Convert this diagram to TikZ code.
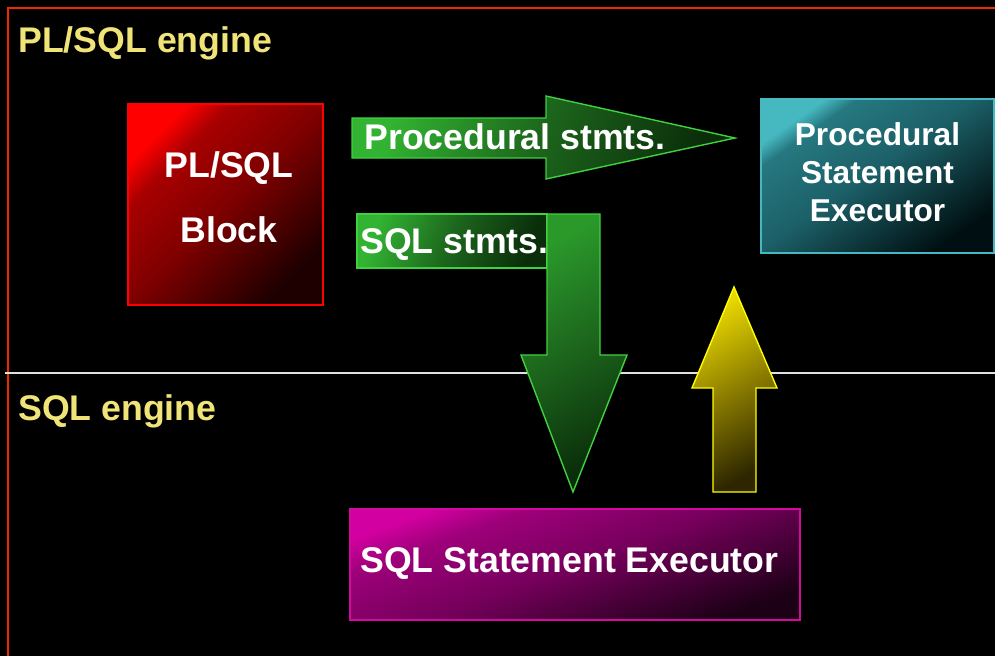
\documentclass[tikz,border=0pt]{standalone}
\usepackage{fontspec}
\setmainfont{Liberation Sans}
\usepackage{tikz}
\usetikzlibrary{positioning}

\definecolor{framered}{RGB}{240,40,0}
\definecolor{hdryellow}{RGB}{240,228,120}
\definecolor{blockred}{RGB}{255,0,0}
\definecolor{blockhi}{RGB}{168,0,0}
\definecolor{blockmid}{RGB}{128,0,0}
\definecolor{blockdark}{RGB}{30,0,0}
\definecolor{tealedge}{RGB}{70,184,192}
\definecolor{tealhi}{RGB}{38,120,128}
\definecolor{tealmid}{RGB}{28,96,104}
\definecolor{tealdark}{RGB}{0,16,18}
\definecolor{grnedge}{RGB}{64,208,64}
\definecolor{grnlight}{RGB}{50,180,50}
\definecolor{grnmid}{RGB}{28,100,28}
\definecolor{grndark}{RGB}{10,45,10}
\definecolor{yeledge}{RGB}{255,255,0}
\definecolor{yellight}{RGB}{232,216,0}
\definecolor{yelmid}{RGB}{140,125,0}
\definecolor{yeldark}{RGB}{45,38,0}
\definecolor{magedge}{RGB}{210,10,160}
\definecolor{maglight}{RGB}{210,0,160}
\definecolor{maghi}{RGB}{158,0,122}
\definecolor{magmid}{RGB}{118,0,92}
\definecolor{magdark}{RGB}{28,0,22}

% shadings with a small bright corner
\pgfdeclareverticalshading{redbox}{100bp}{color(0bp)=(blockdark); color(25bp)=(blockdark);
  color(50bp)=(blockmid); color(67bp)=(blockhi); color(75bp)=(blockred); color(100bp)=(blockred)}
\pgfdeclareverticalshading{tealbox}{100bp}{color(0bp)=(tealdark); color(25bp)=(tealdark);
  color(52bp)=(tealmid); color(70bp)=(tealhi); color(75bp)=(tealedge); color(100bp)=(tealedge)}
\pgfdeclareverticalshading{magbox}{100bp}{color(0bp)=(magdark); color(25bp)=(magdark);
  color(50bp)=(magmid); color(67bp)=(maghi); color(75bp)=(maglight); color(100bp)=(maglight)}

\begin{document}
\begin{tikzpicture}[
    x=0.02cm, y=-0.02cm,                                  % one unit is one pixel
    box/.style={draw, line width=0.8pt, inner sep=0pt},   % Style for the coloured boxes
    bigarrow/.style={draw, line width=0.8pt},             % Style for the block arrows
    txt/.style={text=white, inner sep=0pt,
        font=\bfseries\fontsize{20.3}{24}\selectfont},    % White labels
    hdr/.style={txt, text=hdryellow}                      % Engine titles
    ]

    % Background and frame
    \useasboundingbox (0,0) rectangle (995,656);
    \fill[black] (0,0) rectangle (995,656);
    \draw[framered, line width=1pt] (8,656) -- (8,8) -- (995,8);
    \draw[white!88!black, line width=0.8pt] (5,373) -- (995,373);

    % Engine titles
    \node[hdr, anchor=base west] (plsqleng) at (18,52) {PL/SQL engine};
    \node[hdr, anchor=base west] (sqleng) at (18,420) {SQL engine};

    % PL/SQL block
    \node[box, draw=blockred, shade, shading=redbox, shading angle=45,
          minimum width=3.9cm, minimum height=4.02cm] (block) at (225.5,204.5) {};
    \node[txt, align=center, font=\bfseries\fontsize{20.3}{36.8}\selectfont]
          (blocktxt) at (229,197) {PL/SQL\\Block};

    % Procedural statement executor
    \node[box, draw=tealedge, shade, shading=tealbox, shading angle=35,
          minimum width=4.66cm, minimum height=3.08cm] (pse) at (877.5,176) {};
    \node[txt, align=center, font=\bfseries\fontsize{18}{21.8}\selectfont]
          (psetxt) at (877.5,172) {Procedural\\Statement\\Executor};

    % Procedural stmts. arrow
    \draw[bigarrow, draw=grnedge, top color=grnlight, bottom color=grndark,
          middle color=grnmid, shading angle=70]
        (352,118) -- (546,118) -- (546,96) -- (735,138) -- (546,179)
        -- (546,158) -- (352,158) -- cycle;
    \node[txt, anchor=base west] (procstmts) at (364,149) {Procedural stmts.};

    % SQL stmts. box and arrow down
    \node[box, draw=grnedge, top color=grnlight, bottom color=grndark,
          middle color=grnmid, shading angle=70,
          minimum width=3.8cm, minimum height=1.08cm] (sqlbox) at (452,241) {};
    \draw[bigarrow, draw=grnedge, top color=grnlight!85!black, bottom color=grndark,
          middle color=grnmid, shading angle=30]
        (547,214) -- (600,214) -- (600,355) -- (627,355) -- (573,492)
        -- (521,355) -- (547,355) -- cycle;
    \node[txt, anchor=base west] (sqlstmts) at (360,253) {SQL stmts.};

    % Arrow up from the SQL engine
    \draw[bigarrow, draw=yeledge, top color=yellight, bottom color=yeldark,
          middle color=yelmid, shading angle=30]
        (713,492) -- (756,492) -- (756,388) -- (777,388) -- (734,287)
        -- (692,388) -- (713,388) -- cycle;

    % SQL statement executor
    \node[box, draw=magedge, shade, shading=magbox, shading angle=20,
          minimum width=9cm, minimum height=2.22cm] (sse) at (575,564.5) {};
    \node[txt, anchor=base west] (ssetxt) at (360,572) {SQL Statement Executor};

\end{tikzpicture}
\end{document}
